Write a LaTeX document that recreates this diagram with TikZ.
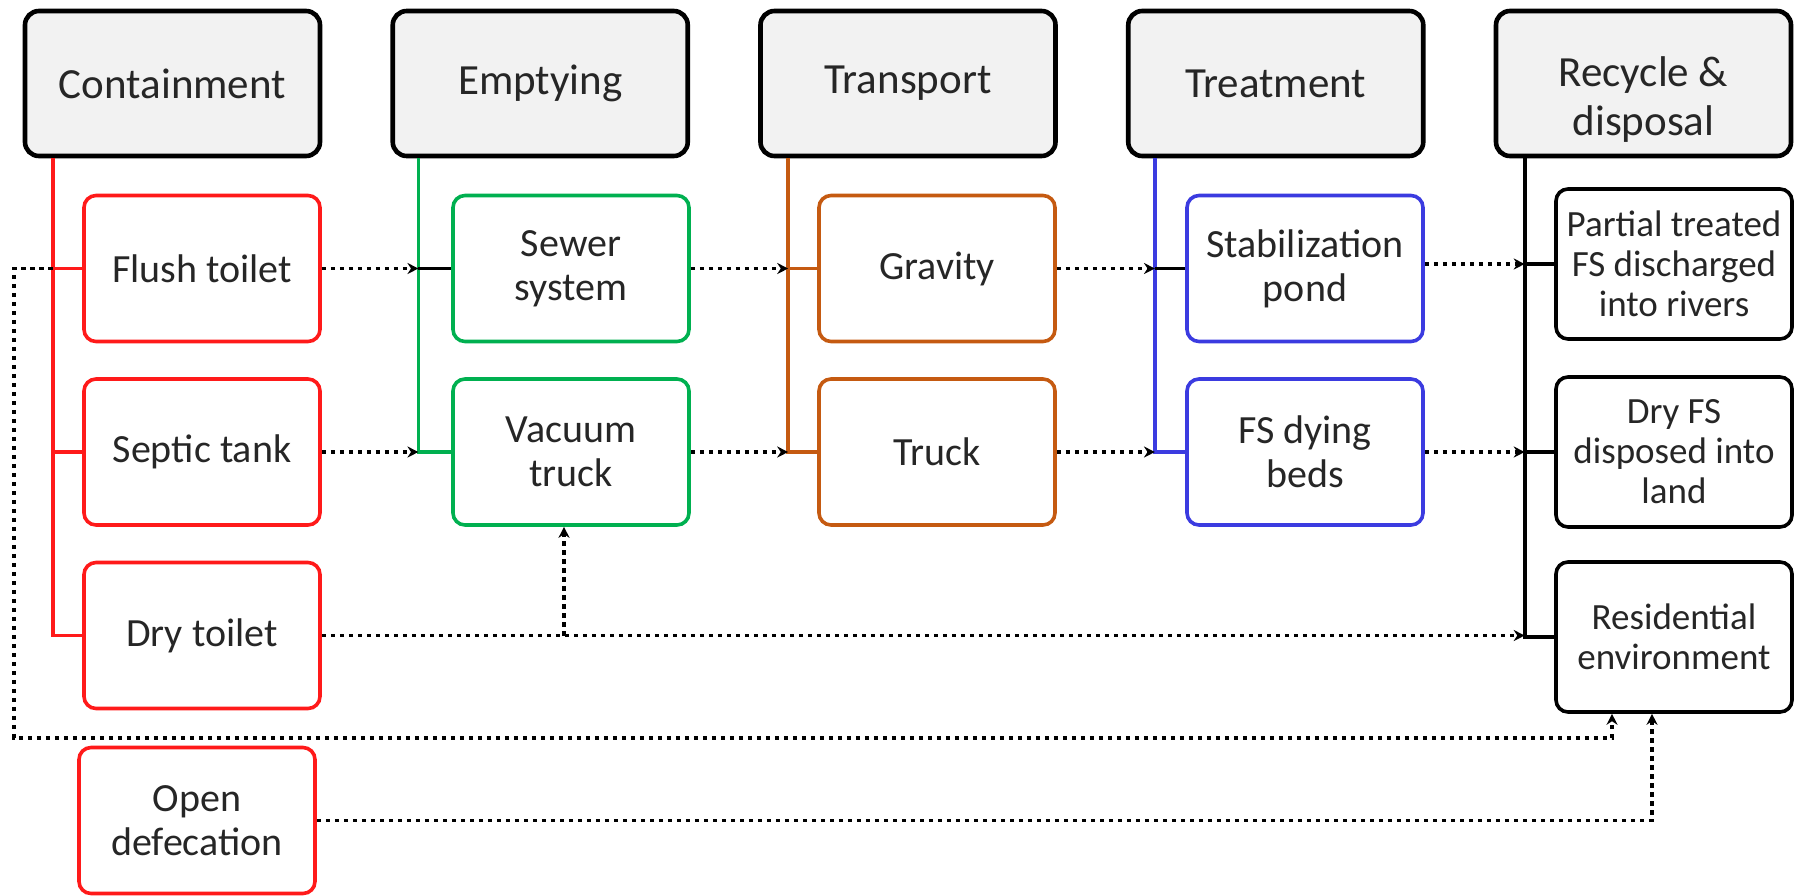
\documentclass[tikz,border=0pt]{standalone}
\usepackage{fontspec}
\setmainfont{Carlito}
\usetikzlibrary{arrows.meta,calc}
\definecolor{cred}{HTML}{FF1A1A}
\definecolor{cgreen}{HTML}{00B050}
\definecolor{corange}{HTML}{C55A11}
\definecolor{cblue}{HTML}{3B3BE0}
\definecolor{hfill}{HTML}{F2F2F2}
\definecolor{txt}{HTML}{262626}
\begin{document}
\begin{tikzpicture}[x=0.5pt,y=-0.5pt,
 hdr/.style={draw=black, line width=2.3pt, fill=hfill, rounded corners=7pt, minimum width=147.5pt, minimum height=72.5pt, inner sep=0pt, align=center, text=txt, font=\fontsize{21.5}{24.5}\selectfont},
 cbox/.style={draw=#1, line width=1.8pt, rounded corners=6pt, minimum width=118pt, minimum height=73pt, inner sep=0pt, align=center, text=txt, font=\fontsize{20}{22}\selectfont},
 rbox/.style={cbox=black, minimum height=75pt, font=\fontsize{18.5}{20}\selectfont},
 vline/.style={draw=#1, line width=1.8pt},
 flow/.style={draw=black, line width=1.8pt, dash pattern=on 2.25pt off 2.25pt, -{Stealth[length=5.5pt,width=5.5pt]}},
]
\useasboundingbox (0,0) rectangle (1800,895);

% headers
\node[hdr] (hC) at (172.5,83.5) {Containment};
\node[hdr] (hE) at (540.25,83.5) {Emptying};
\node[hdr] (hT) at (908,83.5) {Transport};
\node[hdr] (hTr) at (1275.75,83.5) {Treatment};
\node[hdr] (hR) at (1643.5,83.5) {\rule{0pt}{31pt}Recycle \&\\disposal};

% containment
\node[cbox=cred] (flush) at (202,268.5) {Flush toilet};
\node[cbox=cred] (septic) at (202,452) {Septic tank};
\node[cbox=cred] (dry) at (202,635.5) {Dry toilet};
\node[cbox=cred] (od) at (197,820.5) {Open\\defecation};
% emptying
\node[cbox=cgreen] (sewer) at (571,268.5) {Sewer\\system};
\node[cbox=cgreen] (vac) at (571,452) {Vacuum\\truck};
% transport
\node[cbox=corange] (grav) at (937,268.5) {Gravity};
\node[cbox=corange] (truck) at (937,452) {Truck};
% treatment
\node[cbox=cblue] (stab) at (1305,268.5) {Stabilization\\pond};
\node[cbox=cblue] (beds) at (1305,452) {FS dying\\beds};
% recycle
\node[rbox] (part) at (1674,264) {Partial treated\\FS discharged\\into rivers};
\node[rbox] (dfs) at (1674,452) {Dry FS\\disposed into\\land};
\node[rbox] (res) at (1674,637) {Residential\\environment};

% vertical line coordinates
\coordinate (vC) at ($(hC.south west)+(30,0)$);
\coordinate (vE) at ($(hE.south west)+(28,0)$);
\coordinate (vT) at ($(hT.south west)+(30,0)$);
\coordinate (vTr) at ($(hTr.south west)+(29,0)$);
\coordinate (vR) at ($(hR.south west)+(31,0)$);

% tree lines
\draw[vline=cred] (vC) |- (dry.west);
\draw[vline=cred] (vC |- flush.west) -- (flush.west);
\draw[vline=cred] (vC |- septic.west) -- (septic.west);

\draw[vline=cgreen] (vE) |- (vac.west);
\draw[vline=black] (vE |- sewer.west) -- (sewer.west);

\draw[vline=corange] (vT) |- (truck.west);
\draw[vline=corange] (vT |- grav.west) -- (grav.west);

\draw[vline=cblue] (vTr) |- (beds.west);
\draw[vline=black] (vTr |- stab.west) -- (stab.west);

\draw[vline=black] (vR) |- (res.west);
\draw[vline=black] (vR |- part.west) -- (part.west);
\draw[vline=black] (vR |- dfs.west) -- (dfs.west);

% flows
\draw[flow] (flush.east) -- (flush.east -| vE);
\draw[flow] (septic.east) -- (septic.east -| vE);
\draw[flow] (sewer.east) -- (sewer.east -| vT);
\draw[flow] (vac.east) -- (vac.east -| vT);
\draw[flow] (grav.east) -- (grav.east -| vTr);
\draw[flow] (truck.east) -- (truck.east -| vTr);
\draw[flow] (stab.east |- part.west) -- (part.west -| vR);
\draw[flow] (beds.east) -- (beds.east -| vR);
\draw[flow] (dry.east) -- (dry.east -| vR);

\coordinate (tap) at ($(vac.south)+(-7,0)$);
\draw[flow] (dry.east -| tap) -- (tap);

\coordinate (lp) at (14,738);
\coordinate (r1) at ($(res.south)+(-62,0)$);
\coordinate (r2) at ($(res.south)+(-22,0)$);
\draw[flow] (vC |- flush.west) -| (lp) -| (r1);
\draw[flow] (od.east) -| (r2);
\end{tikzpicture}
\end{document}
